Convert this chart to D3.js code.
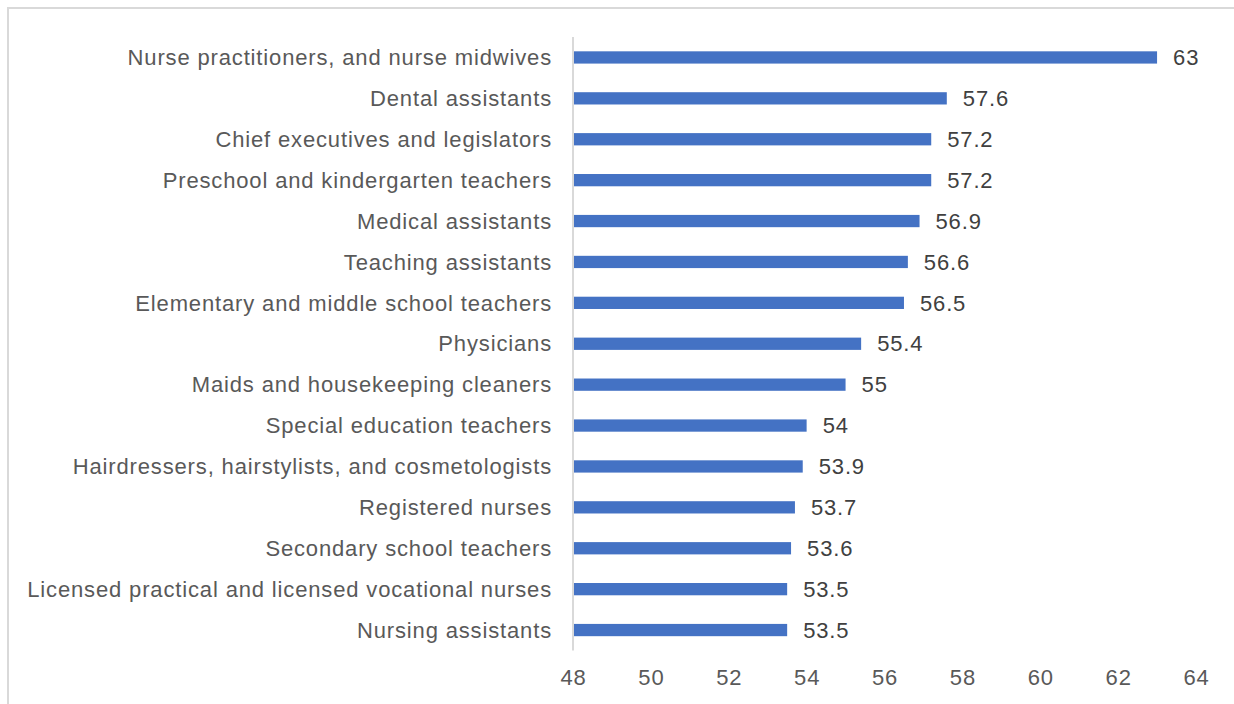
<!DOCTYPE html>
<html>
<head>
<meta charset="utf-8">
<script src="https://cdn.jsdelivr.net/npm/d3@7"></script>
<style>
  html, body { margin: 0; padding: 0; background: #ffffff; }
  svg { display: block; }
</style>
</head>
<body>
<svg id="chart" width="1234" height="704"></svg>
<script>
// Occupations, top to bottom
const categories = [
  "Nurse practitioners, and nurse midwives",
  "Dental assistants",
  "Chief executives and legislators",
  "Preschool and kindergarten teachers",
  "Medical assistants",
  "Teaching assistants",
  "Elementary and middle school teachers",
  "Physicians",
  "Maids and housekeeping cleaners",
  "Special education teachers",
  "Hairdressers, hairstylists, and cosmetologists",
  "Registered nurses",
  "Secondary school teachers",
  "Licensed practical and licensed vocational nurses",
  "Nursing assistants"
];
const values = [63, 57.6, 57.2, 57.2, 56.9, 56.6, 56.5, 55.4, 55, 54, 53.9, 53.7, 53.6, 53.5, 53.5];
const xTicks = [48, 50, 52, 54, 56, 58, 60, 62, 64];

const svg = d3.select("#chart");
const font = "'Liberation Sans', Arial, sans-serif";
const fontSize = 22;
const spacing = "0.85px";

// Chart area frame
svg.append("rect")
  .attr("x", 8).attr("y", 8)
  .attr("width", 1240).attr("height", 720)
  .attr("fill", "none")
  .attr("stroke", "#d9d9d9")
  .attr("stroke-width", 2);

const x = d3.scaleLinear().domain([48, 64]).range([573, 1196]);
const y = d3.scaleBand().domain(categories).range([37, 650.5]).paddingInner(0.7).paddingOuter(0.35);

// Bars
svg.append("g").selectAll("rect")
  .data(values)
  .join("rect")
  .attr("x", x(48))
  .attr("y", (d, i) => y(categories[i]))
  .attr("width", d => x(d) - x(48))
  .attr("height", y.bandwidth())
  .attr("fill", "#4472c4");

// Vertical category axis line
svg.append("line")
  .attr("x1", x(48)).attr("x2", x(48))
  .attr("y1", 37).attr("y2", 650.5)
  .attr("stroke", "#d9d9d9")
  .attr("stroke-width", 2);

// Category labels
svg.append("g").selectAll("text")
  .data(categories)
  .join("text")
  .attr("x", 552)
  .attr("y", d => y(d) + y.bandwidth() / 2)
  .attr("dy", "0.35em")
  .attr("text-anchor", "end")
  .attr("font-family", font)
  .attr("font-size", fontSize)
  .attr("letter-spacing", spacing)
  .attr("fill", "#595959")
  .text(d => d);

// Value labels
svg.append("g").selectAll("text")
  .data(values)
  .join("text")
  .attr("x", d => x(d) + 16)
  .attr("y", (d, i) => y(categories[i]) + y.bandwidth() / 2)
  .attr("dy", "0.35em")
  .attr("font-family", font)
  .attr("font-size", fontSize)
  .attr("letter-spacing", spacing)
  .attr("fill", "#404040")
  .text(d => d);

// Value axis tick labels
const xAxis = d3.axisBottom(x).tickValues(xTicks).tickSize(0).tickPadding(0).tickFormat(d3.format("d"));
const gx = svg.append("g").attr("transform", "translate(0,670)").call(xAxis);
gx.select(".domain").remove();
gx.selectAll("text")
  .attr("font-family", font)
  .attr("font-size", fontSize)
  .attr("letter-spacing", spacing)
  .attr("fill", "#595959")
  .attr("dy", "0.35em")
  .attr("y", 7);
</script>
</body>
</html>
